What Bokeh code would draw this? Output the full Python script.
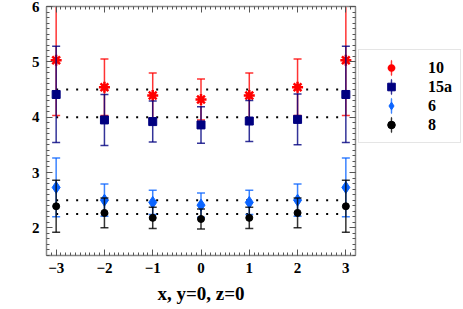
from bokeh.plotting import figure
from bokeh.layouts import row
from bokeh.models import (ColumnDataSource, Range1d, LinearAxis, Legend, LegendItem,
                          SingleIntervalTicker)
from bokeh.embed import file_html
from bokeh.resources import INLINE

# ---- data ----
x_vals = [-3, -2, -1, 0, 1, 2, 3]
s10 = [5.03, 4.54, 4.39, 4.32, 4.39, 4.54, 5.03]
e10 = [1.00, 0.51, 0.41, 0.37, 0.41, 0.51, 1.00]
s15a = [4.41, 3.95, 3.92, 3.86, 3.93, 3.96, 4.41]
e15a = [0.87, 0.46, 0.37, 0.33, 0.37, 0.46, 0.87]
s6 = [2.73, 2.50, 2.46, 2.41, 2.46, 2.50, 2.73]
e6 = [0.53, 0.29, 0.22, 0.22, 0.22, 0.29, 0.53]
s8 = [2.39, 2.27, 2.18, 2.16, 2.18, 2.27, 2.39]
e8 = [0.47, 0.27, 0.19, 0.18, 0.19, 0.27, 0.47]
ref_levels = [4.5, 4.0, 2.5, 2.25]
y_ticks = [2, 3, 4, 5, 6]
series_labels = ["10", "15a", "6", "8"]
x_title = "x, y=0, z=0"

FONT = "Liberation Serif"
H = 307
TOP, BOTTOM = 6, 52

p = figure(width=357, height=H,
           x_range=Range1d(-3.2, 3.2), y_range=Range1d(1.5, 6),
           output_backend="svg", toolbar_location=None,
           min_border_left=46, min_border_right=2, min_border_top=TOP,
           min_border_bottom=BOTTOM, outline_line_color=None,
           background_fill_color="white", border_fill_color="white")
p.grid.visible = False
xaxis = p.xaxis[0]
yaxis = p.yaxis[0]

# legend panel (separate canvas so the legend can sit outside the data frame)
p2 = figure(width=106, height=H, x_range=Range1d(100, 101), y_range=Range1d(100, 101),
            output_backend="svg", toolbar_location=None,
            min_border_left=1, min_border_right=0, min_border_top=TOP,
            min_border_bottom=BOTTOM, outline_line_color=None,
            background_fill_color="white", border_fill_color="white")
p2.axis.visible = False
p2.grid.visible = False

# reference dotted lines
xmin, xmax = min(x_vals), max(x_vals)
p.segment(x0=[xmin] * len(ref_levels), x1=[xmax] * len(ref_levels),
          y0=ref_levels, y1=ref_levels, line_color="black",
          line_width=2, line_dash="2 8")

series = [
    (s10, e10, "#ff0000", "asterisk", 11, 2.5),
    (s15a, e15a, "#000080", "square", 8, 1),
    (s6, e6, "#0a64ff", "diamond", 12, 1),
    (s8, e8, "#000000", "circle", 7, 1),
]

items = []
for (vals, errs, col, mk, size, lw), lab in zip(series, series_labels):
    lo = [v - e for v, e in zip(vals, errs)]
    hi = [v + e for v, e in zip(vals, errs)]
    src = ColumnDataSource(dict(x=x_vals, y=vals, lo=lo, hi=hi))
    p.segment(x0="x", x1="x", y0="lo", y1="hi", source=src,
              line_color=col, line_width=1.5, line_alpha=0.8)
    p.scatter(x="x", y="lo", source=src, marker="dash", size=8,
              line_color=col, line_width=1.5, line_alpha=0.8)
    p.scatter(x="x", y="hi", source=src, marker="dash", size=8,
              line_color=col, line_width=1.5, line_alpha=0.8)
    p.scatter(x="x", y="y", source=src, marker=mk, size=size,
              fill_color=col, line_color=col, line_width=lw)
    # legend glyphs: a thin vertical ellipse reads as the error bar, then the marker
    bar2 = p2.ellipse(x="x", y="y", width=1, height=100, width_units="screen",
                      height_units="screen", source=src, fill_color=None,
                      line_color=col, line_width=1.5, line_alpha=0.8)
    r2 = p2.scatter(x="x", y="y", source=src, marker=mk, size=size,
                    fill_color=col, line_color=col, line_width=lw)
    items.append(LegendItem(label=lab, renderers=[bar2, r2]))

xt = SingleIntervalTicker(interval=1, num_minor_ticks=10)
yt = SingleIntervalTicker(interval=1, num_minor_ticks=10)
xaxis.ticker = xt
yaxis.ticker = yt
xaxis.major_label_overrides = {v: (f"\u2212{abs(v)}" if v < 0 else str(v)) for v in x_vals}
xaxis.axis_label = x_title
xaxis.axis_label_text_font = FONT
xaxis.axis_label_text_font_style = "bold"
xaxis.axis_label_text_font_size = "19px"
xaxis.axis_label_text_color = "black"
xaxis.axis_label_standoff = 7

top = LinearAxis(ticker=xt)
right = LinearAxis(ticker=yt)
top.major_label_overrides = {v: "" for v in x_vals}
right.major_label_overrides = {v: "" for v in y_ticks}
p.add_layout(top, "above")
p.add_layout(right, "right")

for ax in [xaxis, yaxis, top, right]:
    ax.axis_line_color = "#888888"
    ax.axis_line_width = 1.5
    ax.major_tick_line_color = "#555555"
    ax.minor_tick_line_color = "#555555"
    ax.major_tick_in = 6
    ax.major_tick_out = 0
    ax.minor_tick_in = 3
    ax.minor_tick_out = 0
    ax.major_label_text_font = FONT
    ax.major_label_text_font_style = "bold"
    ax.major_label_text_font_size = "15px"
    ax.major_label_text_color = "black"
    ax.major_label_standoff = 7

for ax in [top, right]:
    ax.major_label_standoff = 0

legend = Legend(items=items, location=(0, 112), padding=8, spacing=0,
                glyph_width=48, glyph_height=19, label_height=19,
                label_standoff=13, label_text_font=FONT,
                label_text_font_style="bold", label_text_font_size="16px",
                label_text_color="black",
                border_line_color="#cccccc", border_line_width=1.5,
                background_fill_color="white", margin=0)
p2.add_layout(legend)

layout = row(p, p2, spacing=0)
open("out.html", "w").write(file_html(layout, INLINE))
